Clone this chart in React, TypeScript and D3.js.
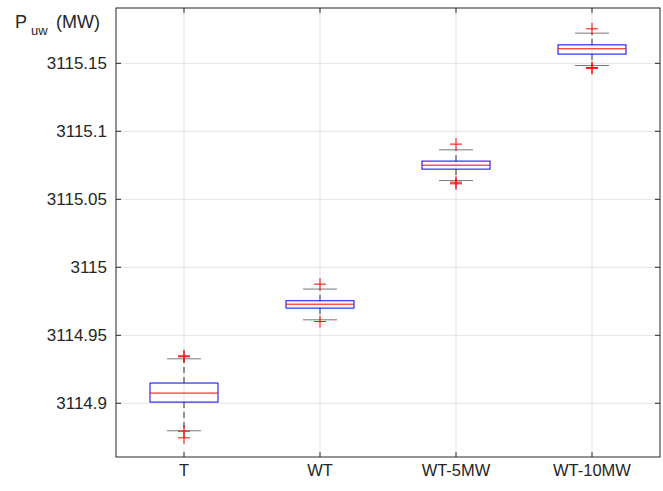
import React from "react";
import * as d3 from "d3";

const categories = ["T", "WT", "WT-5MW", "WT-10MW"];
const q1 = [3114.9009, 3114.97, 3115.0722, 3115.1568];
const median = [3114.9075, 3114.9729, 3115.0751, 3115.1607];
const q3 = [3114.9149, 3114.9754, 3115.0781, 3115.1636];
const whiskerLow = [3114.8798, 3114.9614, 3115.0638, 3115.1484];
const whiskerHigh = [3114.9327, 3114.984, 3115.0864, 3115.1722];
const outliers = [
  [3114.9349, 3114.9342, 3114.8795, 3114.8746],
  [3114.9876, 3114.9601],
  [3115.0906, 3115.0626, 3115.0614],
  [3115.1754, 3115.1469, 3115.1463],
];
const yTicks = [3114.9, 3114.95, 3115, 3115.05, 3115.1, 3115.15];
const yTickLabels = ["3114.9", "3114.95", "3115", "3115.05", "3115.1", "3115.15"];

const W = 663, H = 491;
const L = 116, R = 660, T = 8, B = 457;

export default function App() {
  const x = d3.scaleBand().domain(categories).range([L, R]).paddingInner(0).paddingOuter(0);
  const y = d3.scaleLinear().domain([3114.8605, 3115.1907]).range([B, T]);
  const bw = x.bandwidth();
  const font = "'Liberation Sans', Arial, Helvetica, sans-serif";
  return (
    <svg width={W} height={H} style={{ position: "absolute", left: 0, top: 0, background: "#fff" }}>
      <rect x={0} y={0} width={W} height={H} fill="#fff" />
      {/* grid */}
      {yTicks.map((t, i) => (
        <line key={"gy" + i} x1={L} x2={R} y1={y(t)} y2={y(t)} stroke="#e3e3e3" strokeWidth={1} />
      ))}
      {categories.map((c) => {
        const cx = x(c)! + bw / 2;
        return <line key={"gx" + c} x1={cx} x2={cx} y1={T} y2={B} stroke="#e3e3e3" strokeWidth={1} />;
      })}
      {/* boxes */}
      {categories.map((c, i) => {
        const cx = x(c)! + bw / 2;
        const hw = bw * 0.25;
        const cw = bw * 0.125;
        return (
          <g key={"b" + c}>
            <line x1={cx} x2={cx} y1={y(q3[i])} y2={y(whiskerHigh[i])} stroke="#333" strokeWidth={1} strokeDasharray="6,4" />
            <line x1={cx} x2={cx} y1={y(q1[i])} y2={y(whiskerLow[i])} stroke="#333" strokeWidth={1} strokeDasharray="6,4" />
            <line x1={cx - cw} x2={cx + cw} y1={y(whiskerHigh[i])} y2={y(whiskerHigh[i])} stroke="#777" strokeWidth={1} />
            <line x1={cx - cw} x2={cx + cw} y1={y(whiskerLow[i])} y2={y(whiskerLow[i])} stroke="#777" strokeWidth={1} />
            <rect x={cx - hw} y={y(q3[i])} width={2 * hw} height={y(q1[i]) - y(q3[i])} fill="none" stroke="#0000ff" strokeWidth={1} />
            <line x1={cx - hw} x2={cx + hw} y1={y(median[i])} y2={y(median[i])} stroke="#ff0000" strokeWidth={1} />
            {outliers[i].map((o, j) => (
              <g key={"o" + j} stroke="#ff0000" strokeWidth={1}>
                <line x1={cx - 6} x2={cx + 6} y1={y(o)} y2={y(o)} />
                <line x1={cx} x2={cx} y1={y(o) - 6} y2={y(o) + 6} />
              </g>
            ))}
          </g>
        );
      })}
      {/* frame */}
      <rect x={L} y={T} width={R - L} height={B - T} fill="none" stroke="#262626" strokeWidth={1} />
      {/* y ticks */}
      {yTicks.map((t, i) => (
        <g key={"yt" + i}>
          <line x1={L} x2={L + 5} y1={y(t)} y2={y(t)} stroke="#262626" strokeWidth={1} />
          <line x1={R} x2={R - 5} y1={y(t)} y2={y(t)} stroke="#262626" strokeWidth={1} />
          <text x={L - 9} y={y(t)} dy="0.35em" textAnchor="end" fontFamily={font} fontSize={17} fill="#262626">
            {yTickLabels[i]}
          </text>
        </g>
      ))}
      {/* x ticks */}
      {categories.map((c) => {
        const cx = x(c)! + bw / 2;
        return (
          <g key={"xt" + c}>
            <line x1={cx} x2={cx} y1={B} y2={B - 5} stroke="#262626" strokeWidth={1} />
            <line x1={cx} x2={cx} y1={T} y2={T + 5} stroke="#262626" strokeWidth={1} />
            <text x={cx} y={B + 13} dy="0.35em" textAnchor="middle" fontFamily={font} fontSize={16.5} fill="#262626">
              {c}
            </text>
          </g>
        );
      })}
      {/* y label */}
      <text fontFamily={font} fontSize={18} fill="#262626">
        <tspan x={15} y={28}>P</tspan>
        <tspan x={31} y={35} fontSize={13}>uw</tspan>
        <tspan x={56} y={28}>(MW)</tspan>
      </text>
    </svg>
  );
}
